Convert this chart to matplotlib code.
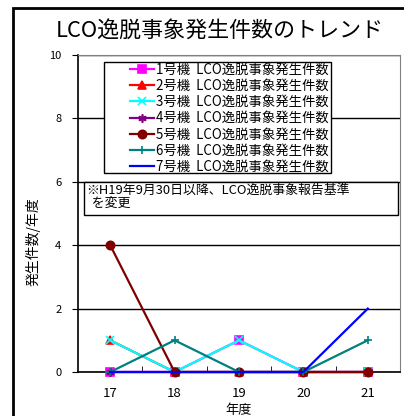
import matplotlib
matplotlib.use('Agg')
import matplotlib.pyplot as plt
from matplotlib.patches import Rectangle

plt.rcParams['font.family'] = ['Noto Sans CJK JP', 'DejaVu Sans']

years = ['17', '18', '19', '20', '21']
unit_names = ['1号機', '2号機', '3号機', '4号機', '5号機', '6号機', '7号機']
counts = [
    [0, 0, 1, 0, 0],
    [1, 0, 0, 0, 0],
    [1, 0, 1, 0, 0],
    [0, 0, 0, 0, 0],
    [4, 0, 0, 0, 0],
    [0, 1, 0, 0, 1],
    [0, 0, 0, 0, 2],
]
colors = ['#FF00FF', '#FF0000', '#00FFFF', '#800080', '#800000', '#008080', '#0000FF']
markers = ['s', '^', 'x', (6, 2, 0), 'o', '+', None]
title = 'LCO逸脱事象発生件数のトレンド'
note = '※H19年9月30日以降、LCO逸脱事象報告基準\n  を変更'

W, H = 404, 416
fig = plt.figure(figsize=(W / 100, H / 100), dpi=100)
ax_l, ax_b, ax_w, ax_h = 78, 44, 322, 317
ax = fig.add_axes([ax_l / W, ax_b / H, ax_w / W, ax_h / H])

def px_to_ax(xp, yp):
    # reference pixel (from top-left) -> axes fraction
    return (xp - ax_l) / ax_w, (H - yp - ax_b) / ax_h

# outer frame of the chart object (cut at right / bottom)
fig.patches.append(Rectangle((13 / W, -0.1), 1.2, (H - 8) / H + 0.1,
                             transform=fig.transFigure, fill=False,
                             edgecolor='black', linewidth=2, zorder=0))

x = range(len(years))
for name, vals, c, m in zip(unit_names, counts, colors, markers):
    ax.plot(x, vals, color=c, marker=m, markersize=6, linewidth=1.6,
            markeredgewidth=1.2, label=name + '  LCO逸脱事象発生件数', clip_on=False, zorder=3)

ax.set_xlim(-0.5, 4.5)
ax.set_ylim(0, 10)
ax.set_yticks([0, 2, 4, 6, 8, 10])
ax.set_xticks(list(x))
ax.set_xticklabels(years)
ax.set_xticks([0.5, 1.5, 2.5, 3.5], minor=True)
ax.tick_params(axis='x', which='major', length=0, labelsize=9.5, pad=11)
ax.tick_params(axis='x', which='minor', direction='in', length=4)
ax.tick_params(axis='y', length=4, labelsize=8, pad=8)
ax.grid(axis='y', color='black', linewidth=1)
ax.set_axisbelow(True)
for s in ['top', 'right']:
    ax.spines[s].set_color('#808080')
ax.spines['left'].set_linewidth(1.2)
ax.spines['bottom'].set_linewidth(1.2)

ax.set_xlabel('年度', fontsize=9.5, labelpad=3)
fig.text(33 / W, (H - 242) / H, '発生件数/年度', fontsize=10, rotation=90,
         ha='center', va='center')

fig.text(220 / W, (H - 32) / H, title, fontsize=15.8, ha='center', va='center')

# legend frame
lx0, ly0 = px_to_ax(104, 173)
lx1, ly1 = px_to_ax(331, 62)
ax.add_patch(Rectangle((lx0, ly0), lx1 - lx0, ly1 - ly0, transform=ax.transAxes,
                       facecolor='white', edgecolor='black', linewidth=1, zorder=4))
ax_anchor = px_to_ax(129, 62)
leg = ax.legend(loc='upper left', bbox_to_anchor=ax_anchor, fontsize=9.6,
                frameon=False, handlelength=1.85, handletextpad=0.15,
                borderpad=0.05, labelspacing=0.165, borderaxespad=0)
leg.set_zorder(5)

# note box
nx0, ny0 = px_to_ax(84, 215)
nx1, ny1 = px_to_ax(398, 182)
ax.add_patch(Rectangle((nx0, ny0), nx1 - nx0, ny1 - ny0, transform=ax.transAxes,
                       facecolor='white', edgecolor='black', linewidth=1, zorder=4))
tx, ty = px_to_ax(86, 184)
ax.text(tx, ty, note, transform=ax.transAxes, fontsize=9.3,
        ha='left', va='top', linespacing=1.0, zorder=5)

fig.savefig('out.png', dpi=100)
